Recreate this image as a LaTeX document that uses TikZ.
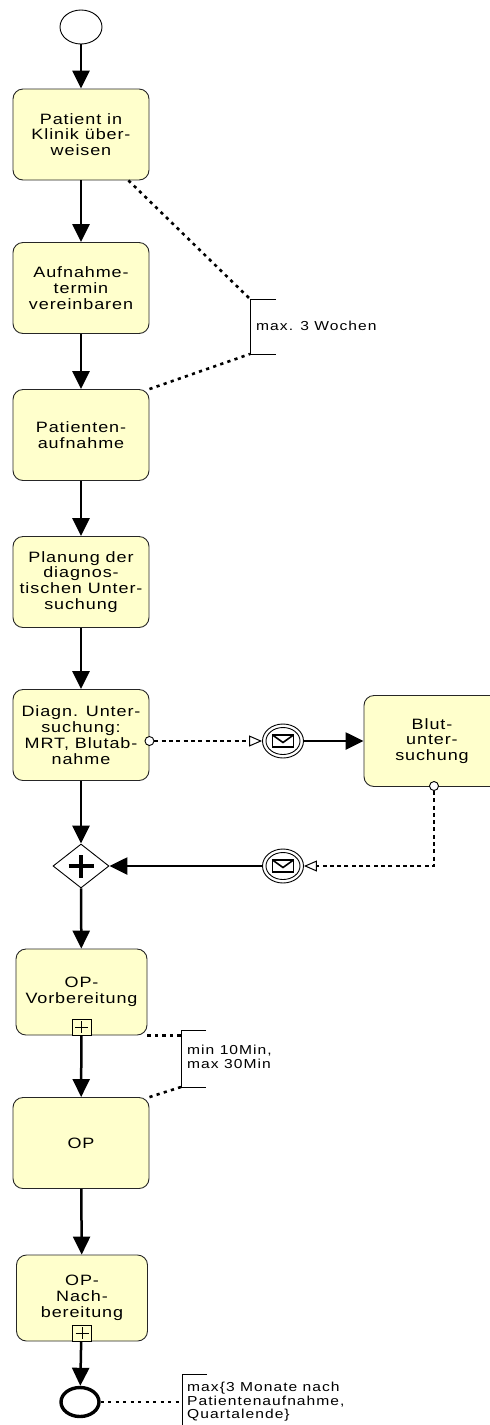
\documentclass[tikz,border=0pt]{standalone}
\usepackage{fontspec}
\setmainfont{Liberation Sans}[FakeStretch=1.2,LetterSpace=6]
\newfontfamily\notefont{Liberation Sans}[FakeStretch=1.2,LetterSpace=8]
\usetikzlibrary{arrows.meta,shapes.geometric}
\definecolor{taskfill}{RGB}{255,255,204}

\tikzset{
  task/.style={draw=black!85,line width=0.9pt,fill=taskfill,rounded corners=10pt,
    minimum width=136pt,minimum height=91pt,inner sep=0pt,align=center,
    font=\fontsize{15}{15.8}\selectfont},
  subtask/.style={task,minimum width=131pt,minimum height=86pt},
  startev/.style={ellipse,draw,line width=0.9pt,fill=white,minimum width=42pt,minimum height=34pt,inner sep=0pt},
  endev/.style={ellipse,draw,line width=3.4pt,fill=white,minimum width=38pt,minimum height=29pt,inner sep=0pt},
  msgev/.style={ellipse,draw,line width=0.9pt,fill=white,minimum width=41pt,minimum height=34pt,inner sep=0pt},
  gate/.style={diamond,draw,line width=0.9pt,fill=white,aspect=1.27,minimum width=56pt,minimum height=44pt,inner sep=0pt},
  msgsrc/.style={circle,draw,line width=0.9pt,fill=white,minimum size=9pt,inner sep=0pt},
  flow/.style={line width=2.5pt,-{Triangle[length=18pt,width=17pt]}},
  msgflow/.style={line width=2.4pt,dash pattern=on 4pt off 3.3pt,
    -{Triangle[open,length=13pt,width=11pt,line width=1pt]}},
  assoc/.style={line width=2.6pt,dash pattern=on 3.2pt off 4.3pt},
  bracket/.style={line width=1pt},
  note/.style={anchor=west,align=left,inner sep=0pt,font=\notefont\fontsize{13}{13.6}\selectfont},
  envelope/.pic={
    \draw[line width=1.6pt,fill=white] (-10.5,-6) rectangle (10.5,6);
    \draw[line width=1.6pt] (-10.5,-6) -- (0,1.5) -- (10.5,-6);
  },
  plusmark/.pic={
    \draw[line width=0.9pt,fill=taskfill] (-9.5,-16) rectangle (9.5,0);
    \draw[line width=0.9pt] (-6.5,-8) -- (6.5,-8) (0,-14) -- (0,-2);
  }
}

\begin{document}
\begin{tikzpicture}[x=1pt,y=-1pt]
\useasboundingbox (0,0) rectangle (490,1425);
\clip (0,0) rectangle (490,1425);

% events and activities of the main sequence
\node[startev] (start) at (81,27) {};
\node[task] (t1) at (81,134.5) {Patient in\\Klinik über-\\weisen};
\node[task] (t2) at (81,288) {Aufnahme-\\termin\\vereinbaren};
\node[task] (t3) at (81,435) {Patienten-\\aufnahme};
\node[task] (t4) at (81,582) {Planung der\\diagnos-\\tischen Unter-\\suchung};
\node[task] (t5) at (81,735) {Diagn. Unter-\\suchung:\\MRT, Blutab-\\nahme};
\node[task] (blut) at (432,741) {Blut-\\unter-\\suchung};
\node[gate] (g) at (81,866) {};
\node[subtask] (t6) at (81.5,992) {OP-\\Vorbereitung};
\node[task] (op) at (81,1143) {OP};
\node[subtask] (t8) at (82,1298) {OP-\\Nach-\\bereitung};
\node[endev] (end) at (80,1402) {};

% subprocess markers
\pic at (t6.south) {plusmark};
\pic at (t8.south) {plusmark};

% parallel gateway symbol
\draw[line width=4pt] ([xshift=-12.5pt]g.center) -- ([xshift=12.5pt]g.center)
  ([yshift=-11.5pt]g.center) -- ([yshift=11.5pt]g.center);

% message events
\node[msgev] (m1) at (283,741) {};
\draw[line width=0.9pt] (m1.center) ellipse [x radius=17pt, y radius=13.5pt];
\pic at (m1.center) {envelope};
\node[msgev] (m2) at (283,866) {};
\draw[line width=0.9pt] (m2.center) ellipse [x radius=17pt, y radius=13.5pt];
\pic at (m2.center) {envelope};

% sequence flows
\draw[flow] (start) -- (t1);
\draw[flow] (t1) -- (t2);
\draw[flow] (t2) -- (t3);
\draw[flow] (t3) -- (t4);
\draw[flow] (t4) -- (t5);
\draw[flow] (t5) -- (g);
\draw[flow] (g) -- (t6);
\draw[flow] (t6) -- (op);
\draw[flow] (op) -- (t8);
\draw[flow] (t8) -- (end);
\draw[flow] (m1) -- (blut.west |- m1);
\draw[flow] (m2) -- (g);

% message flows
\node[msgsrc] (s1) at (t5.east |- m1) {};
\node[msgsrc] (s2) at (434,786) {};
\draw[msgflow] (s1) -- (m1);
\draw[msgflow] (s2) |- (m2);

% time annotations
\coordinate (a1t) at (250,299);
\coordinate (a1b) at (250,354);
\draw[bracket] ([xshift=26pt]a1t) -- (a1t) -- (a1b) -- ([xshift=26pt]a1b);
\node[note] (n1) at (256,326) {max. 3 Wochen};
\draw[assoc] ([xshift=-21pt]t1.south east) -- (a1t);
\draw[assoc] (t3.north east) -- (a1b);

\coordinate (a2t) at (181,1030);
\coordinate (a2b) at (181,1087);
\draw[bracket] ([xshift=25pt]a2t) -- (a2t) -- (a2b) -- ([xshift=25pt]a2b);
\node[note] (n2) at (187,1057) {min 10Min,\\max 30Min};
\draw[assoc] (t6.south east) -- (a2t |- t6.south east);
\draw[assoc] (op.north east) -- (a2b);

\coordinate (a3t) at (182,1374);
\coordinate (a3m) at (182,1402);
\draw[bracket] ([xshift=25pt]a3t) -- (a3t) -- (182,1430);
\node[note] (n3) at (187,1402) {max\{3 Monate nach\\Patientenaufnahme,\\Quartalende\}};
\draw[assoc] (end) -- (a3m);
\end{tikzpicture}
\end{document}
